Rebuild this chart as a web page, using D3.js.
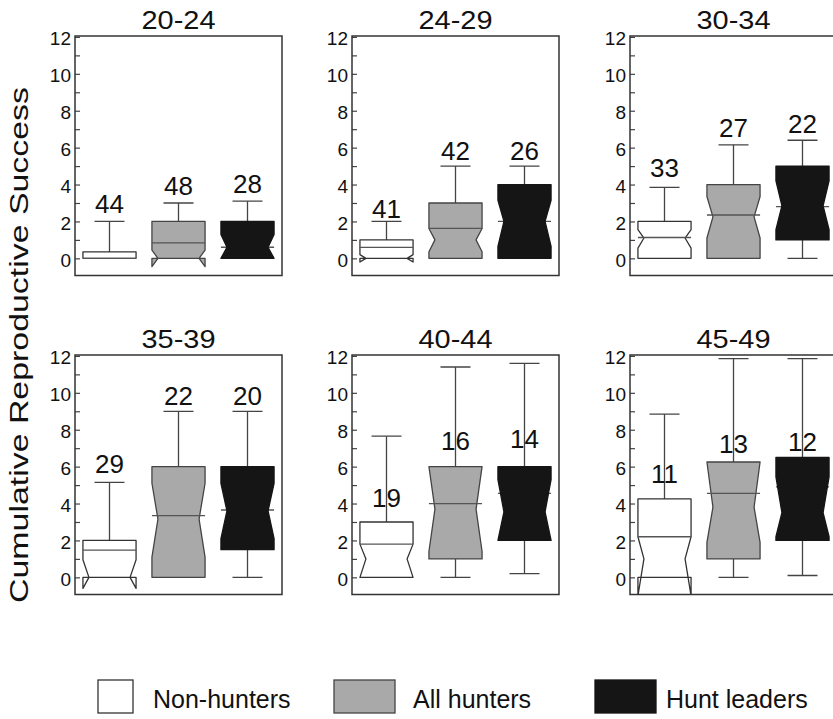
<!DOCTYPE html>
<html>
<head>
<meta charset="utf-8">
<script src="https://cdn.jsdelivr.net/npm/d3@7"></script>
<style>
  body { margin: 0; background: #fff; }
  svg text { font-family: "Liberation Sans", Arial, Helvetica, sans-serif; fill: #111; }
</style>
</head>
<body>
<svg id="chart" width="833" height="719"></svg>
<script>
// ---- data -------------------------------------------------------------
const ageClasses = ["20-24", "24-29", "30-34", "35-39", "40-44", "45-49"];
const groups = ["Non-hunters", "All hunters", "Hunt leaders"];
const yTickValues = [0, 2, 4, 6, 8, 10, 12];
const yLabel = "Cumulative Reproductive Success";

// one row per age class, one entry per group (non-hunters, all hunters, hunt leaders)
const sampleSize = [[44, 48, 28], [41, 42, 26], [33, 27, 22], [29, 22, 20], [19, 16, 14], [11, 13, 12]];
const whiskerLow = [[0, 0, 0], [0, 0, 0], [0, 0, 0], [0, 0, 0], [0, 0, 0.2], [0, 0, 0.1]];
const quartile1 = [[0, 0, 0], [0, 0, 0], [0, 0, 1], [0, 0, 1.5], [0, 1, 2], [0, 1, 2]];
const medianLine = [[0, 0.84, 0.6], [0.59, 1.62, 2], [1.13, 2.35, 2.8], [1.48, 3.35, 3.65], [1.8, 4, 4.55], [2.2, 4.55, 4.9]];
const quartile3 = [[0.35, 2, 2], [1, 3, 4], [2, 4, 5], [2, 6, 6], [3, 6, 6], [4.25, 6.25, 6.5]];
const whiskerHigh = [[2, 3, 3.1], [2, 5, 5], [3.85, 6.15, 6.4], [5.15, 9, 9], [7.65, 11.4, 11.6], [8.85, 11.85, 11.85]];
// notch: lower end, narrowest point, upper end (null = plain box)
const notchLow = [[null, -0.45, 0], [-0.2, 0.36, 0.65], [0.55, 1.1, 1.55], [-0.6, 1.1, 2.1], [0, 1.4, 2.0], [-1.0, 1.9, 2.2]];
const notchMid = [[null, 0, 0.6], [0, 1.0, 2.0], [1.1, 2.25, 2.85], [0, 3.15, 3.6], [1.0, 3.7, 3.55], [1.0, 3.8, 3.5]];
const notchHigh = [[null, 0.45, 1.3], [0.2, 1.62, 3.15], [1.55, 3.35, 4.2], [0.95, 5.1, 5.1], [1.8, 6.0, 5.3], [2.2, 6.25, 5.45]];
// value at which each sample-size label sits
const countLabelAt = [[2.45, 3.45, 3.55], [2.16, 5.35, 5.35], [4.41, 6.57, 6.79], [5.63, 9.33, 9.33], [3.82, 6.9, 6.99], [5.09, 6.72, 6.84]];

// ---- layout -----------------------------------------------------------
const svg = d3.select("#chart");
const colLeft = [75, 352, 630];
const rowTop = [36, 355];
const panelW = 207, panelH = 239.5;
const notchIndent = 6;
const capWidth = 30;

const fills = { "Non-hunters": "#ffffff", "All hunters": "#a9a9a9", "Hunt leaders": "#151515" };
const outlines = { "Non-hunters": "#333", "All hunters": "#444", "Hunt leaders": "#151515" };

const y = d3.scaleLinear().domain([-0.93, 12.05]).range([panelH, 0]);
const x = d3.scaleBand().domain(groups).range([0, panelW]).paddingInner(0.23).paddingOuter(0.115);
const line = d3.line();

function boxOutline(L, R, q1, q3, lo, mid, hi) {
  if (lo === null) {
    return line([[L, y(q3)], [L, y(q1)], [R, y(q1)], [R, y(q3)]]) + "Z";
  }
  return line([
    [L, y(q3)], [L, y(hi)], [L + notchIndent, y(mid)], [L, y(lo)], [L, y(q1)],
    [R, y(q1)], [R, y(lo)], [R - notchIndent, y(mid)], [R, y(hi)], [R, y(q3)]
  ]) + "Z";
}

ageClasses.forEach((age, a) => {
  const col = a % 3, row = Math.floor(a / 3);
  const g = svg.append("g").attr("transform", `translate(${colLeft[col]},${rowTop[row]})`);

  g.append("clipPath").attr("id", `clip${a}`)
    .append("rect").attr("width", panelW).attr("height", panelH);

  // panel title
  g.append("text")
    .attr("x", panelW / 2).attr("y", -7)
    .attr("text-anchor", "middle")
    .attr("font-size", 26)
    .attr("textLength", 74)
    .attr("lengthAdjust", "spacingAndGlyphs")
    .text(age);

  // y axis with inward ticks, labels on even values
  const axis = d3.axisLeft(y)
    .tickValues(d3.range(0, 13))
    .tickSize(-5)
    .tickPadding(4)
    .tickFormat(d => (yTickValues.includes(d) ? d : ""));
  const ax = g.append("g").call(axis);
  ax.select(".domain").remove();
  ax.selectAll(".tick line").attr("stroke", "#444").attr("stroke-width", 1.2);
  ax.selectAll(".tick text")
    .attr("font-size", 19).attr("fill", "#111")
    .attr("font-family", "Liberation Sans, Arial, sans-serif")
    .attr("dy", "0.42em");

  const marks = g.append("g").attr("clip-path", `url(#clip${a})`);

  groups.forEach((grp, k) => {
    const L = x(grp), R = x(grp) + x.bandwidth(), cx = L + x.bandwidth() / 2;
    const q1 = quartile1[a][k], q3 = quartile3[a][k];
    const wLo = whiskerLow[a][k], wHi = whiskerHigh[a][k];
    const darkBox = grp === "Hunt leaders";

    // whiskers
    marks.append("line").attr("x1", cx).attr("x2", cx)
      .attr("y1", y(q3)).attr("y2", y(wHi))
      .attr("stroke", "#444").attr("stroke-width", 1.3);
    marks.append("line").attr("x1", cx - capWidth / 2).attr("x2", cx + capWidth / 2)
      .attr("y1", y(wHi)).attr("y2", y(wHi))
      .attr("stroke", "#444").attr("stroke-width", 1.3);
    if (wLo < q1) {
      marks.append("line").attr("x1", cx).attr("x2", cx)
        .attr("y1", y(q1)).attr("y2", y(wLo))
        .attr("stroke", "#444").attr("stroke-width", 1.3);
      marks.append("line").attr("x1", cx - capWidth / 2).attr("x2", cx + capWidth / 2)
        .attr("y1", y(wLo)).attr("y2", y(wLo))
        .attr("stroke", "#444").attr("stroke-width", 1.3);
    }

    const drawCentre = () => marks.append("line").attr("x1", L).attr("x2", R)
      .attr("y1", y(medianLine[a][k])).attr("y2", y(medianLine[a][k]))
      .attr("stroke", "#555").attr("stroke-width", 1.3);

    // on the dark box only the ends of the centre line show beside the notch
    if (darkBox) drawCentre();

    // notched box
    marks.append("path")
      .attr("d", boxOutline(L, R, q1, q3, notchLow[a][k], notchMid[a][k], notchHigh[a][k]))
      .attr("fill", fills[grp])
      .attr("stroke", outlines[grp])
      .attr("stroke-width", 1.3)
      .attr("stroke-linejoin", "round");

    if (!darkBox) drawCentre();

    // sample size
    g.append("text")
      .attr("x", cx).attr("y", y(countLabelAt[a][k]))
      .attr("text-anchor", "middle")
      .attr("font-size", 26)
      .text(sampleSize[a][k]);
  });

  // panel frame
  g.append("rect").attr("width", panelW).attr("height", panelH)
    .attr("fill", "none").attr("stroke", "#333").attr("stroke-width", 1.5);
});

// y-axis title
svg.append("text")
  .attr("transform", "translate(28,345) rotate(-90)")
  .attr("text-anchor", "middle")
  .attr("font-size", 26)
  .attr("textLength", 516)
  .attr("lengthAdjust", "spacingAndGlyphs")
  .text(yLabel);

// legend
const legendBoxes = [
  { x: 98, w: 35 },
  { x: 334, w: 61 },
  { x: 595, w: 61 }
];
const legendTextX = [153, 413, 666];
const legend = svg.append("g");
groups.forEach((grp, k) => {
  legend.append("rect")
    .attr("x", legendBoxes[k].x).attr("y", 680)
    .attr("width", legendBoxes[k].w).attr("height", 33)
    .attr("fill", fills[grp]).attr("stroke", outlines[grp]).attr("stroke-width", 1.3);
  legend.append("text")
    .attr("x", legendTextX[k]).attr("y", 708)
    .attr("font-size", 25)
    .text(grp);
});
</script>
</body>
</html>
